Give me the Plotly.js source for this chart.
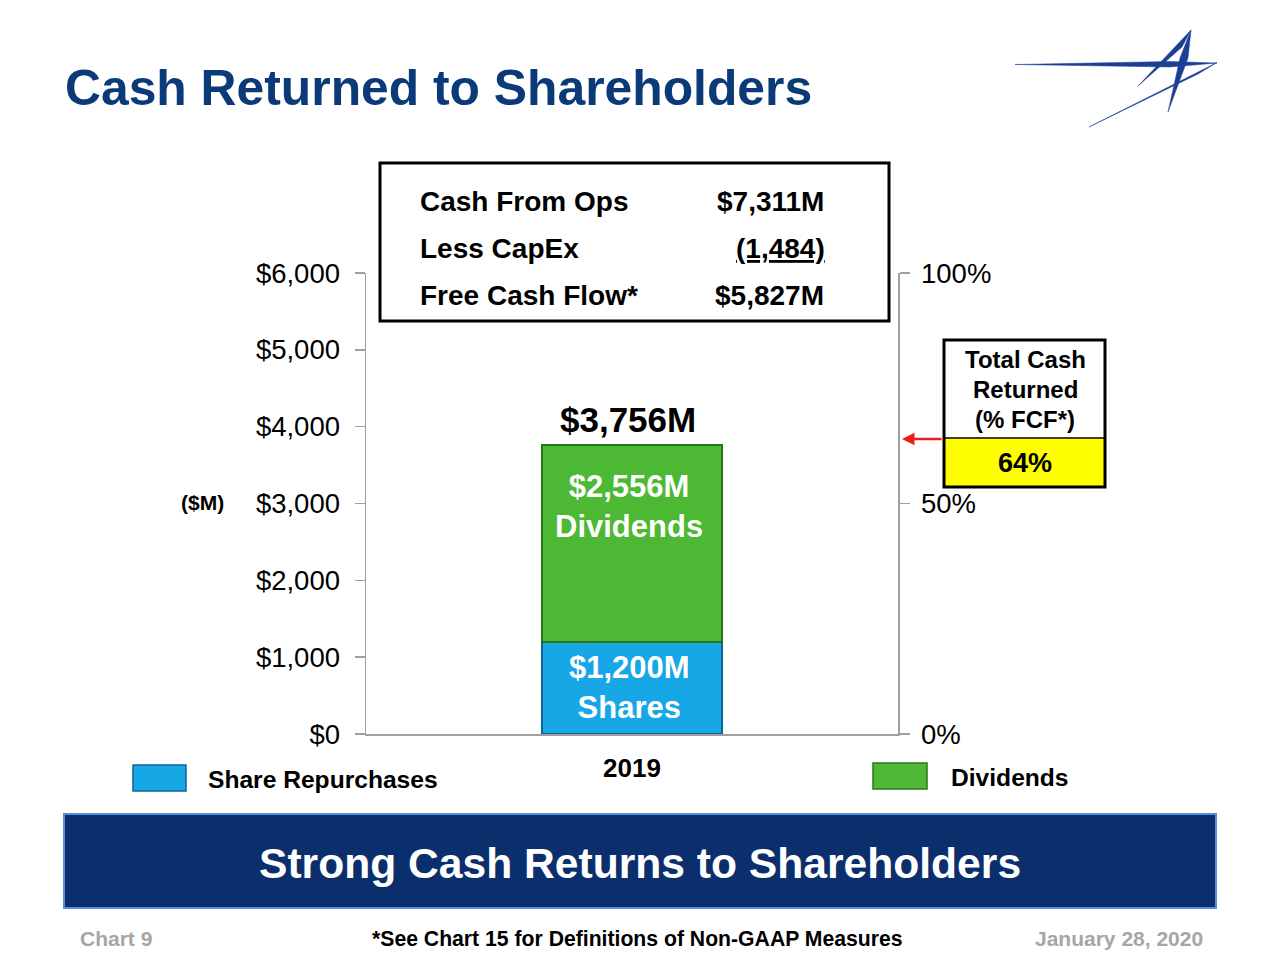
<!DOCTYPE html>
<html>
<head>
<meta charset="utf-8">
<script src="https://cdn.plot.ly/plotly-3.0.1.min.js"></script>
<style>html,body{margin:0;padding:0;background:#fff;}#chart{width:1280px;height:960px;}</style>
</head>
<body>
<div id="chart"></div>
<script>
// ---- data ----
const years = ['2019'];
const shares = [1200];
const dividends = [2556];
const totals = [3756];
const pctFCF = [64];
const cashFromOps = 7311;
const capEx = 1484;
const freeCashFlow = 5827;
const yTicks = [0, 1000, 2000, 3000, 4000, 5000, 6000];
const yTickText = ['$0', '$1,000', '$2,000', '$3,000', '$4,000', '$5,000', '$6,000'];
const y2Ticks = [0, 50, 100];
const y2TickText = ['0%', '50%', '100%'];

// ---- layout helpers ----
const W = 1280, H = 960;
const L = 366, R = 898, T = 273, B = 734;
const px = x => (x - L) / (R - L);
const py = y => (B - y) / (B - T);
const FONT = 'Liberation Sans, Arial, Helvetica, sans-serif';
const NAVY = '#0b3a78';
const LOGO = '#1c3f94';
const fmtM = v => '$' + v.toLocaleString('en-US') + 'M';
const cat = years.indexOf('2019');

function poly(points) {
  return 'M ' + points.map(p => px(p[0]) + ',' + py(p[1])).join(' L ') + ' Z';
}
function rect(x0, y0, x1, y1, fill, line, lw) {
  return {type: 'rect', xref: 'paper', yref: 'paper', x0: px(x0), x1: px(x1), y0: py(y1), y1: py(y0),
          fillcolor: fill, line: {color: line || fill, width: lw == null ? 0 : lw}, layer: 'above'};
}
function txt(text, x, y, size, opts) {
  opts = opts || {};
  return Object.assign({xref: 'paper', yref: 'paper', x: px(x), y: py(y), text: text, showarrow: false,
    xanchor: opts.xanchor || 'center', yanchor: 'middle',
    font: {family: FONT, size: size, color: opts.color || '#000', weight: opts.weight || 'bold'}}, opts.extra || {});
}

const traces = [
  {type: 'bar', x: years, y: shares, name: 'Share Repurchases', width: 0.338,
   marker: {color: '#17a6e6', line: {color: '#0d6594', width: 2}}, hoverinfo: 'y', showlegend: false},
  {type: 'bar', x: years, y: dividends, name: 'Dividends', width: 0.338,
   marker: {color: '#4cb833', line: {color: '#2a741c', width: 2}}, hoverinfo: 'y', showlegend: false},
  {type: 'scatter', x: years, y: pctFCF, yaxis: 'y2', mode: 'markers', marker: {opacity: 0},
   hoverinfo: 'skip', showlegend: false}
];

const shapes = [
  // Cash flow box
  rect(380, 163, 889, 321, 'rgba(0,0,0,0)', '#000', 3),
  // Total cash returned box
  rect(944, 438, 1105, 487, '#ffff00', '#000', 0),
  rect(944, 340, 1105, 487, 'rgba(0,0,0,0)', '#000', 3),
  {type: 'line', xref: 'paper', yref: 'paper', x0: px(944), x1: px(1105), y0: py(438), y1: py(438), line: {color: '#000', width: 1.5}},
  // legend swatches
  rect(133, 765, 186, 791, '#17a6e6', '#0d6594', 1.5),
  rect(873, 763, 927, 789, '#4cb833', '#2a741c', 1.5),
  // banner
  rect(64, 814, 1216, 908, '#0b2f6c', '#5a8ee0', 2),
  // logo
  {type: 'path', xref: 'paper', yref: 'paper', path: poly([[1015, 64.5], [1170, 61.5], [1217, 63], [1170, 67]]), fillcolor: LOGO, line: {color: LOGO, width: 0.5}},
  {type: 'path', xref: 'paper', yref: 'paper', path: poly([[1217, 62.5], [1089, 127], [1198, 74]]), fillcolor: LOGO, line: {color: LOGO, width: 0.5}},
  {type: 'path', xref: 'paper', yref: 'paper', path: poly([[1191, 30], [1188, 58], [1168, 112], [1180, 58]]), fillcolor: LOGO, line: {color: LOGO, width: 0.5}},
  {type: 'path', xref: 'paper', yref: 'paper', path: poly([[1191, 30], [1138, 86], [1182, 47]]), fillcolor: LOGO, line: {color: LOGO, width: 0.5}}
];

const annotations = [
  // cash flow box text
  txt('Cash From Ops', 418, 201, 28, {xanchor: 'left'}),
  txt('Less CapEx', 418, 248, 28, {xanchor: 'left'}),
  txt('Free Cash Flow*', 418, 295, 28, {xanchor: 'left'}),
  txt(fmtM(cashFromOps), 826, 201, 28, {xanchor: 'right'}),
  txt('<u>(' + capEx.toLocaleString('en-US') + ')</u>', 827, 248, 28, {xanchor: 'right'}),
  txt(fmtM(freeCashFlow), 826, 295, 28, {xanchor: 'right'}),
  // right box
  txt('Total Cash', 1025, 359, 24),
  txt('Returned', 1025, 389, 24),
  txt('(% FCF*)', 1025, 419, 24),
  txt(pctFCF[0] + '%', 1025, 463, 27),
  // arrow pointing to the right axis
  {xref: 'paper', yref: 'y2', x: px(902), y: pctFCF[0], ax: 41, ay: 0, text: '', showarrow: true,
   arrowhead: 2, arrowsize: 1, arrowwidth: 2.5, arrowcolor: '#ee1c1c'},
  // unit label
  txt('($M)', 202, 502, 21),
  // bar labels
  {xref: 'x', yref: 'y', x: cat, y: totals[0], text: fmtM(totals[0]), showarrow: false,
   yanchor: 'bottom', yshift: 4, xshift: -4, font: {family: FONT, size: 35, color: '#000', weight: 'bold'}},
  {xref: 'x', yref: 'y', x: cat, y: shares[0] + dividends[0], text: fmtM(dividends[0]) + '<br>Dividends', showarrow: false,
   yanchor: 'top', yshift: -22, xshift: -3, font: {family: FONT, size: 31, color: '#fff', weight: 'bold'}},
  {xref: 'x', yref: 'y', x: cat, y: shares[0] / 2, text: fmtM(shares[0]) + '<br>Shares', showarrow: false,
   yanchor: 'middle', xshift: -3, font: {family: FONT, size: 31, color: '#fff', weight: 'bold'}},
  // legend labels
  txt('Share Repurchases', 206, 779, 24.6, {xanchor: 'left'}),
  txt('Dividends', 949, 777, 24.6, {xanchor: 'left'}),
  // banner text
  txt('Strong Cash Returns to Shareholders', 640, 863, 42.6, {color: '#fff'}),
  // footer
  txt('Chart 9', 78, 938, 21, {xanchor: 'left', color: '#a6a6a6'}),
  txt('*See Chart 15 for Definitions of Non-GAAP Measures', 637, 938, 21.2),
  txt('January 28, 2020', 1205, 938, 21, {xanchor: 'right', color: '#a6a6a6'})
];

const layout = {
  width: W, height: H,
  margin: {l: L, r: W - R, t: T, b: H - B, pad: 0},
  paper_bgcolor: '#fff', plot_bgcolor: '#fff',
  barmode: 'stack',
  showlegend: false,
  title: {text: '<b>Cash Returned to Shareholders</b>', x: 65 / W, xanchor: 'left', xref: 'container',
          y: 1 - 88 / H, yanchor: 'middle', yref: 'container',
          font: {family: FONT, size: 49.8, color: NAVY}},
  xaxis: {type: 'category', range: [-0.5, 0.5], showgrid: false, zeroline: false,
          showline: true, linecolor: '#a0a0a0', linewidth: 1.5, ticks: '', ticklabelstandoff: 10,
          tickfont: {family: FONT, size: 26, color: '#000', weight: 'bold'}, fixedrange: true},
  yaxis: {range: [0, 6000], tickmode: 'array', tickvals: yTicks, ticktext: yTickText, showgrid: false, zeroline: false,
          showline: true, linecolor: '#a0a0a0', linewidth: 1.5, ticks: 'outside', ticklen: 10, tickcolor: '#a0a0a0',
          tickwidth: 1.5, ticklabelstandoff: 9,
          tickfont: {family: FONT, size: 27.5, color: '#000'}, fixedrange: true},
  yaxis2: {range: [0, 100], tickmode: 'array', tickvals: y2Ticks, ticktext: y2TickText, overlaying: 'y', side: 'right',
           showgrid: false, zeroline: false,
           showline: true, linecolor: '#a0a0a0', linewidth: 1.5, ticks: 'outside', ticklen: 10, tickcolor: '#a0a0a0',
           tickwidth: 1.5, ticklabelstandoff: 6,
           tickfont: {family: FONT, size: 27.5, color: '#000'}, fixedrange: true},
  shapes: shapes,
  annotations: annotations
};

Plotly.newPlot('chart', traces, layout, {displayModeBar: false, staticPlot: true});
</script>
</body>
</html>
